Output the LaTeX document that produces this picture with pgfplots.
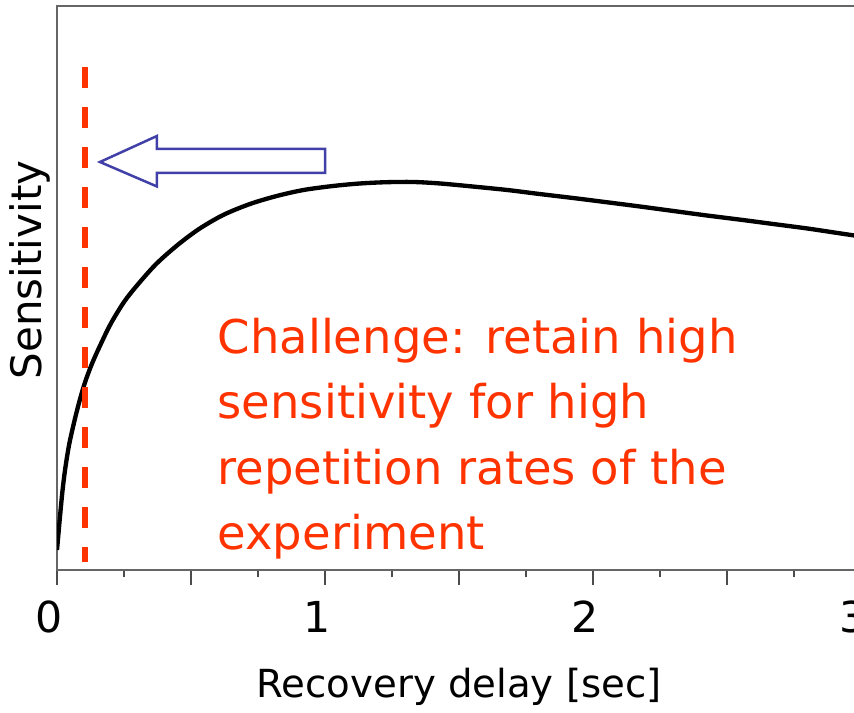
\documentclass[border=0pt]{standalone}
\usepackage{fontspec}
\setmainfont{DejaVu Sans}
\usepackage{pgfplots}
\pgfplotsset{compat=1.18}
\definecolor{redtxt}{HTML}{FF3300}
\definecolor{arrowblue}{HTML}{4040A8}
\begin{document}
\begin{tikzpicture}
\begin{axis}[
  at={(0pt,0pt)}, anchor=south west,
  scale only axis, width=241.2pt, height=169.2pt,
  xmin=0, xmax=3, ymin=0, ymax=564,
  axis line style={draw=black!60, line width=0.6pt},
  xtick={0,0.5,...,3}, xticklabels={0,,1,,2,,3},
  minor x tick num=1,
  xtick pos=bottom, ytick=\empty,
  tick align=outside,
  major tick length=4.5pt, minor tick length=2.2pt,
  tick style={black!70, line width=0.5pt},
  xticklabel style={font=\fontsize{12.8}{14}\selectfont, anchor=center, yshift=-9.6pt, xshift=-2.5pt},
  xlabel={Recovery delay [sec]},
  xlabel style={font=\fontsize{11.6}{13}\selectfont, at={(axis description cs:0.5,0)}, anchor=center, yshift=-35.1pt},
  ylabel={Sensitivity},
  ylabel style={font=\fontsize{12.6}{14}\selectfont, at={(axis description cs:-0.0336,0.532)}, anchor=center},
]
\addplot[black, line width=1.3pt, smooth] coordinates {
(0.000,20) (0.010,50) (0.020,78) (0.030,100) (0.045,125) (0.065,149)
(0.085,170) (0.105,188) (0.130,206) (0.160,224) (0.200,246) (0.250,268)
(0.300,285) (0.370,306) (0.450,325) (0.530,341) (0.620,355) (0.720,366)
(0.820,374) (0.920,380) (1.030,384) (1.130,386.5) (1.230,387.8) (1.330,388)
(1.430,386.5) (1.550,383.5) (1.680,380) (1.800,376) (1.925,372) (2.050,367.8)
(2.175,363.5) (2.300,359) (2.425,354.5) (2.550,350.3) (2.672,346) (2.800,341.5)
(2.900,337.5) (3.000,333.5)
};
\addplot[redtxt, line width=1.8pt, dash pattern=on 6.3pt off 5.7pt] coordinates {(0.1045,503) (0.1045,8)};
\draw[arrowblue, line width=0.75pt] (axis cs:0.1604,408) -- (axis cs:0.373,434) -- (axis cs:0.373,421) -- (axis cs:1.0,421) -- (axis cs:1.0,397) -- (axis cs:0.373,397) -- (axis cs:0.373,383.5) -- cycle;
\node[anchor=base west, text=redtxt, font=\fontsize{13.95}{16}\selectfont, inner sep=0pt] at (axis cs:0.597,216) {Challenge: retain high};
\node[anchor=base west, text=redtxt, font=\fontsize{13.95}{16}\selectfont, inner sep=0pt] at (axis cs:0.597,151) {sensitivity for high};
\node[anchor=base west, text=redtxt, font=\fontsize{13.95}{16}\selectfont, inner sep=0pt] at (axis cs:0.597,86) {repetition rates of the};
\node[anchor=base west, text=redtxt, font=\fontsize{13.95}{16}\selectfont, inner sep=0pt] at (axis cs:0.597,21) {experiment};
\end{axis}
\pgfresetboundingbox
\path[use as bounding box] (-17.1pt,-42.6pt) rectangle (239.1pt,171pt);
\end{tikzpicture}
\end{document}
